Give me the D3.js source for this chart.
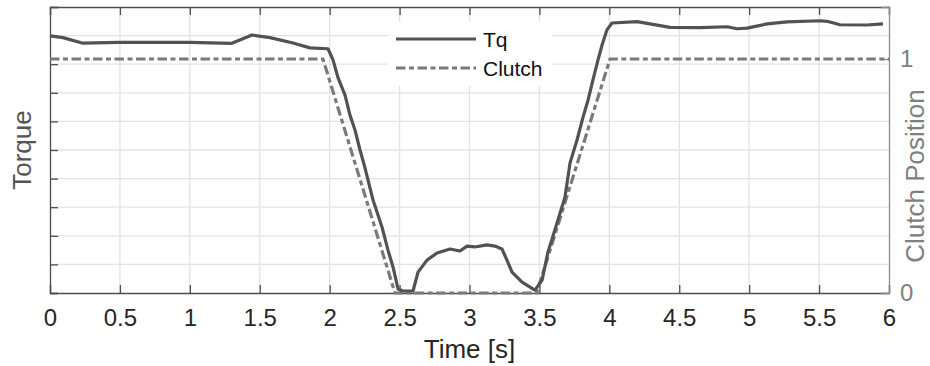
<!DOCTYPE html>
<html>
<head>
<meta charset="utf-8">
<script src="https://cdn.jsdelivr.net/npm/d3@7"></script>
<style>
  html, body { margin: 0; padding: 0; background: #fff; }
  svg text { font-family: "Liberation Sans", Arial, Helvetica, sans-serif; }
</style>
</head>
<body>
<svg id="chart" width="930" height="366"></svg>
<script>
// Torque trace (unitless, 0..10 scale) and clutch position over time
const tqTime = [0, 0.093, 0.229, 0.5, 1.0, 1.30, 1.445, 1.573, 1.738, 1.859, 1.988, 2.024, 2.060, 2.110, 2.145, 2.181, 2.217, 2.253, 2.310, 2.374, 2.417, 2.453, 2.489, 2.525, 2.596, 2.632, 2.696, 2.768, 2.861, 2.932, 2.982, 3.039, 3.125, 3.182, 3.232, 3.268, 3.304, 3.376, 3.468, 3.519, 3.561, 3.626, 3.683, 3.719, 3.769, 3.812, 3.848, 3.883, 3.919, 3.948, 3.983, 4.019, 4.198, 4.434, 4.649, 4.842, 4.913, 4.985, 5.128, 5.271, 5.507, 5.557, 5.650, 5.843, 5.957];
const tqValue = [8.99, 8.93, 8.74, 8.76, 8.76, 8.73, 9.02, 8.93, 8.74, 8.57, 8.54, 8.15, 7.52, 6.92, 6.22, 5.70, 5.00, 4.37, 3.25, 2.31, 1.50, 0.91, 0.14, 0.07, 0.07, 0.73, 1.15, 1.40, 1.54, 1.47, 1.64, 1.61, 1.68, 1.64, 1.54, 1.15, 0.73, 0.38, 0.10, 0.45, 1.43, 2.45, 3.36, 4.55, 5.35, 6.15, 6.75, 7.45, 8.15, 8.67, 9.20, 9.44, 9.49, 9.29, 9.28, 9.31, 9.24, 9.26, 9.41, 9.48, 9.52, 9.50, 9.38, 9.37, 9.41];

const clutchTime = [0, 1.952, 2.467, 3.48, 4.005, 6];
const clutchValue = [1, 1, 0, 0, 1, 1];

const xTicks = [0, 0.5, 1, 1.5, 2, 2.5, 3, 3.5, 4, 4.5, 5, 5.5, 6];
const xTickLabels = ["0", "0.5", "1", "1.5", "2", "2.5", "3", "3.5", "4", "4.5", "5", "5.5", "6"];
const torqueTicks = [0, 1, 2, 3, 4, 5, 6, 7, 8, 9, 10];
const clutchTicks = [0, 1];
const legendLabels = ["Tq", "Clutch"];

const svg = d3.select("#chart");
const plotL = 50, plotR = 889, plotT = 7, plotB = 293;

const x = d3.scaleLinear().domain([0, 6]).range([plotL, plotR]);
const yT = d3.scaleLinear().domain([0, 10]).range([plotB, plotT]);
const yC = d3.scaleLinear().domain([0, 1.2222]).range([plotB, plotT]);

const axisColor = "#4d4d4d";
const gridColor = "#e3e3e3";
const tqColor = "#525252";
const clutchColor = "#7a7a7a";
const dash = "9.5,3.5,5,3.5";
const font = "Liberation Sans, Arial, sans-serif";

// grid
const grid = svg.append("g");
grid.selectAll("line.vg").data(xTicks.slice(1, -1)).join("line")
  .attr("x1", d => x(d)).attr("x2", d => x(d))
  .attr("y1", plotT).attr("y2", plotB)
  .attr("stroke", gridColor).attr("stroke-width", 1.3);
grid.selectAll("line.hg").data(torqueTicks.slice(1, -1)).join("line")
  .attr("x1", plotL).attr("x2", plotR)
  .attr("y1", d => yT(d)).attr("y2", d => yT(d))
  .attr("stroke", gridColor).attr("stroke-width", 1.3);

// axes
const bottomAxis = d3.axisBottom(x).tickValues(xTicks)
  .tickFormat((d, i) => xTickLabels[i]).tickSize(-8).tickPadding(16);
const gB = svg.append("g").attr("transform", `translate(0,${plotB})`).call(bottomAxis);
gB.select(".domain").attr("stroke", axisColor).attr("stroke-width", 1.3);
gB.selectAll(".tick line").attr("stroke", axisColor).attr("stroke-width", 1.3);
gB.selectAll(".tick text").attr("font-size", 24).attr("fill", "#262626")
  .attr("font-family", font);

const topAxis = d3.axisTop(x).tickValues(xTicks).tickFormat("").tickSize(-8);
const gTop = svg.append("g").attr("transform", `translate(0,${plotT})`).call(topAxis);
gTop.select(".domain").attr("stroke", axisColor).attr("stroke-width", 1.3);
gTop.selectAll(".tick line").attr("stroke", axisColor).attr("stroke-width", 1.3);

const leftAxis = d3.axisLeft(yT).tickValues(torqueTicks).tickFormat("").tickSize(-8);
const gL = svg.append("g").attr("transform", `translate(${plotL},0)`).call(leftAxis);
gL.select(".domain").attr("stroke", axisColor).attr("stroke-width", 1.3);
gL.selectAll(".tick line").attr("stroke", axisColor).attr("stroke-width", 1.3);

const rightAxis = d3.axisRight(yC).tickValues(clutchTicks).tickFormat(d3.format("d"))
  .tickSize(-8).tickPadding(11);
const gR = svg.append("g").attr("transform", `translate(${plotR},0)`).call(rightAxis);
gR.select(".domain").attr("stroke", "#8c8c8c").attr("stroke-width", 1.3);
gR.selectAll(".tick line").attr("stroke", "#8c8c8c").attr("stroke-width", 1.3);
gR.selectAll(".tick text").attr("font-size", 24).attr("fill", "#808080")
  .attr("font-family", font);

// series
const lineGen = d3.line().x(d => x(d[0])).y(d => d[1]);
const clutchPts = clutchTime.map((t, i) => [t, yC(clutchValue[i])]);
const tqPts = tqTime.map((t, i) => [t, yT(tqValue[i])]);

svg.append("path").attr("d", lineGen(clutchPts))
  .attr("fill", "none").attr("stroke", clutchColor).attr("stroke-width", 3.2)
  .attr("stroke-dasharray", dash);
svg.append("path").attr("d", lineGen(tqPts))
  .attr("fill", "none").attr("stroke", tqColor).attr("stroke-width", 3.2)
  .attr("stroke-linejoin", "round");

// legend
const lg = svg.append("g");
lg.append("rect").attr("x", 388).attr("y", 22).attr("width", 164).attr("height", 64).attr("fill", "#fff");
const legendStyles = [{ c: tqColor, d: null }, { c: clutchColor, d: dash }];
legendLabels.forEach((lab, i) => {
  const yy = 39 + i * 29;
  const ln = lg.append("line").attr("x1", 396).attr("x2", 476).attr("y1", yy).attr("y2", yy)
    .attr("stroke", legendStyles[i].c).attr("stroke-width", 3.2);
  if (legendStyles[i].d) ln.attr("stroke-dasharray", legendStyles[i].d);
  lg.append("text").attr("x", 483).attr("y", yy + 8).attr("font-size", 21)
    .attr("fill", "#111").text(lab);
});

// axis titles
svg.append("text").attr("x", (plotL + plotR) / 2).attr("y", 358)
  .attr("text-anchor", "middle").attr("font-size", 26).attr("fill", "#262626").text("Time [s]");
svg.append("text").attr("transform", `translate(31,150) rotate(-90)`)
  .attr("text-anchor", "middle").attr("font-size", 26).attr("fill", "#555").text("Torque");
svg.append("text").attr("transform", `translate(924,176) rotate(-90)`)
  .attr("text-anchor", "middle").attr("font-size", 26).attr("fill", "#808080").text("Clutch Position");
</script>
</body>
</html>
